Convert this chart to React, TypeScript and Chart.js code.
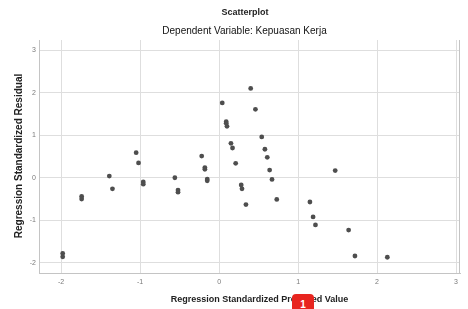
import React, { useEffect, useRef } from "react";
import { Chart, registerables } from "chart.js";

Chart.register(...registerables);

const titleText = "Scatterplot";
const subtitleText = "Dependent Variable: Kepuasan Kerja";
const xTitleText = "Regression Standardized Predicted Value";
const yTitleText = "Regression Standardized Residual";
const badgeText = "1";

const xTicks = [-2, -1, 0, 1, 2, 3];
const yTicks = [-2, -1, 0, 1, 2, 3];

const predicted = [
  -1.05, -1.02, -1.39, -1.35, -0.96, -0.96, -1.74, -1.74, -0.56, -0.52, -0.52, -1.98, -1.98,
  0.40, 0.04, 0.46, 0.09, 0.09, 0.10, 0.54, 0.15, 0.17, 0.58, 0.61, -0.22, -0.18, -0.18,
  0.21, -0.15, -0.15, 0.64, 0.67, 0.28, 0.29, 0.34, 0.73,
  1.47, 1.15, 1.19, 1.22, 1.64, 1.72, 2.13,
];
const residual = [
  0.59, 0.35, 0.04, -0.26, -0.10, -0.15, -0.44, -0.50, 0.0, -0.29, -0.34, -1.78, -1.86,
  2.10, 1.76, 1.61, 1.32, 1.28, 1.21, 0.96, 0.81, 0.70, 0.67, 0.48, 0.51, 0.24, 0.20,
  0.34, -0.03, -0.07, 0.18, -0.04, -0.17, -0.26, -0.63, -0.51,
  0.17, -0.57, -0.92, -1.11, -1.23, -1.84, -1.87,
];

const textPlugin = {
  id: "textPlugin",
  afterDraw(chart: any) {
    const ctx = chart.ctx;
    const a = chart.chartArea;
    ctx.save();
    // frame right border
    ctx.strokeStyle = "#c4c4c4";
    ctx.lineWidth = 1;
    ctx.beginPath();
    ctx.moveTo(a.right - 0.5, a.top);
    ctx.lineTo(a.right - 0.5, a.bottom);
    ctx.stroke();

    ctx.fillStyle = "#222";
    ctx.textAlign = "center";
    ctx.textBaseline = "middle";
    ctx.font = "bold 9px 'Liberation Sans', Arial, sans-serif";
    ctx.fillText(titleText, 245, 12.5);
    ctx.font = "10px 'Liberation Sans', Arial, sans-serif";
    ctx.fillStyle = "#111";
    ctx.fillText(subtitleText, 244.5, 31.5);
    ctx.fillStyle = "#222";
    ctx.font = "bold 9px 'Liberation Sans', Arial, sans-serif";
    ctx.fillText(xTitleText, 259.5, 300);
    ctx.translate(19, 156);
    ctx.rotate(-Math.PI / 2);
    ctx.font = "bold 10px 'Liberation Sans', Arial, sans-serif";
    ctx.fillText(yTitleText, 0, 0);
    ctx.restore();
  },
};

export default function App() {
  const ref = useRef<HTMLCanvasElement | null>(null);
  useEffect(() => {
    if (!ref.current) return;
    const points = predicted.map((x, i) => ({ x, y: residual[i] }));
    const tickFont = { family: "'Liberation Sans', Arial, sans-serif", size: 7 };
    const chart = new Chart(ref.current, {
      type: "scatter",
      data: {
        datasets: [
          {
            data: points,
            backgroundColor: "#4e4e4e",
            borderWidth: 0,
            pointRadius: 2.4,
          },
        ],
      },
      options: {
        animation: false,
        responsive: false,
        layout: { padding: { top: 40, right: 8, left: 0, bottom: 0 } },
        plugins: { legend: { display: false }, tooltip: { enabled: false } },
        scales: {
          x: {
            type: "linear",
            min: -2.28,
            max: 3.05,
            afterBuildTicks: (s: any) => {
              s.ticks = xTicks.map((v) => ({ value: v }));
            },
            afterFit: (s: any) => {
              s.height = 36;
            },
            grid: { color: "#dedede", drawTicks: false },
            border: { color: "#c4c4c4" },
            ticks: { color: "#7a7a7a", font: tickFont, padding: 5, maxRotation: 0 },
          },
          y: {
            type: "linear",
            min: -2.24,
            max: 3.24,
            afterBuildTicks: (s: any) => {
              s.ticks = yTicks.map((v) => ({ value: v }));
            },
            afterFit: (s: any) => {
              s.width = 39;
            },
            grid: { color: "#dedede", drawTicks: false },
            border: { color: "#c4c4c4" },
            ticks: { color: "#7a7a7a", font: tickFont, padding: 3 },
          },
        },
      },
      plugins: [textPlugin],
    });
    return () => chart.destroy();
  }, []);
  return (
    <div style={{ position: "absolute", left: 0, top: 0, width: 468, height: 309, background: "#fff" }}>
      <canvas ref={ref} width={468} height={309} style={{ display: "block" }} />
      <div
        style={{
          position: "absolute",
          left: 292,
          top: 294,
          width: 22,
          height: 15,
          background: "#e8251f",
          borderRadius: "4px 4px 0 0",
          color: "#fff",
          fontFamily: "'Liberation Sans', Arial, sans-serif",
          fontWeight: "bold",
          fontSize: 10,
          textAlign: "center",
          lineHeight: "22px",
          overflow: "hidden",
        }}
      >
        {badgeText}
      </div>
    </div>
  );
}
